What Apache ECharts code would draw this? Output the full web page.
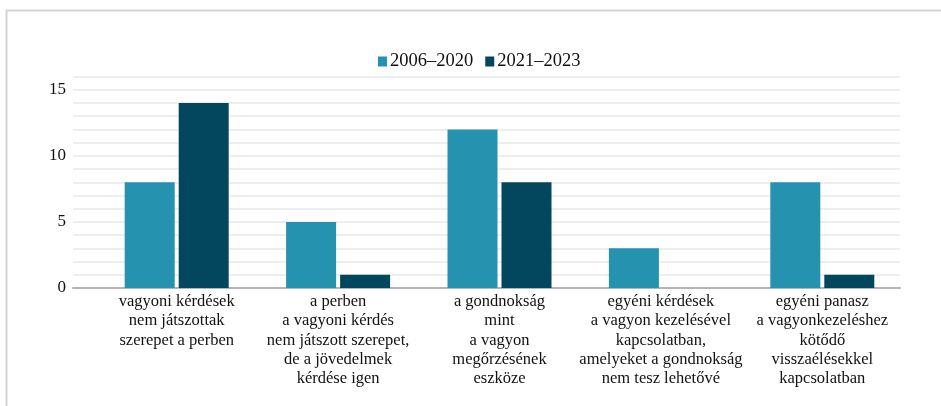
<!DOCTYPE html>
<html>
<head>
<meta charset="utf-8">
<script src="https://cdn.jsdelivr.net/npm/echarts@6/dist/echarts.min.js"></script>
<style>
  html, body { margin: 0; padding: 0; background: #ffffff; }
  #chart { width: 941px; height: 406px; }
</style>
</head>
<body>
<div id="chart"></div>
<script>
// Categories (multi-line labels) and the two period series
const categories = [
  'vagyoni kérdések\nnem játszottak\nszerepet a perben',
  'a perben\na vagyoni kérdés\nnem játszott szerepet,\nde a jövedelmek\nkérdése igen',
  'a gondnokság\nmint\na vagyon\nmegőrzésének\neszköze',
  'egyéni kérdések\na vagyon kezelésével\nkapcsolatban,\namelyeket a gondnokság\nnem tesz lehetővé',
  'egyéni panasz\na vagyonkezeléshez\nkötődő\nvisszaélésekkel\nkapcsolatban'
];
const seriesNames = ['2006–2020', '2021–2023'];
const values2006_2020 = [8, 5, 12, 3, 8];
const values2021_2023 = [14, 1, 8, 0, 1];
const yTickLabels = [0, 5, 10, 15];

const FONT = '"Liberation Serif", "Times New Roman", serif';
const colors = ['#2592B0', '#03475F'];

const chart = echarts.init(document.getElementById('chart'), null, { renderer: 'canvas' });

const gridBox = { top: 76.5, bottom: 118 };

chart.setOption({
  animation: false,
  color: colors,
  textStyle: { fontFamily: FONT },
  graphic: [
    // light frame along top and left edges
    { type: 'line', shape: { x1: 6, y1: 10.5, x2: 941, y2: 10.5 }, style: { stroke: '#d4d4d4', lineWidth: 2 }, silent: true },
    { type: 'line', shape: { x1: 6.5, y1: 10, x2: 6.5, y2: 406 }, style: { stroke: '#d4d4d4', lineWidth: 2 }, silent: true }
  ],
  legend: {
    data: seriesNames,
    top: 47,
    left: 373,
    itemWidth: 9,
    itemHeight: 10,
    itemGap: 12,
    icon: 'rect',
    textStyle: { fontFamily: FONT, fontSize: 18.5, color: '#111', padding: [0, 0, 0, -2] }
  },
  grid: [
    { left: 73, right: 41, top: gridBox.top, bottom: gridBox.bottom },
    { left: 96, right: 38, top: gridBox.top, bottom: gridBox.bottom }
  ],
  xAxis: [
    {
      // background axis: carries the baseline across the full gridline span
      gridIndex: 0, type: 'value', min: 0, max: 1,
      axisLine: { show: true, lineStyle: { color: '#b4b4b4', width: 2 } },
      axisTick: { show: false }, axisLabel: { show: false }, splitLine: { show: false }
    },
    {
      gridIndex: 1, type: 'category', data: categories,
      axisLine: { show: false }, axisTick: { show: false },
      axisLabel: {
        interval: 0, margin: 4, fontFamily: FONT, fontSize: 16.5, lineHeight: 19.3,
        color: '#111', align: 'center', verticalAlign: 'top'
      }
    }
  ],
  yAxis: [
    {
      gridIndex: 0, type: 'value', min: 0, max: 16, interval: 1,
      axisLine: { show: false }, axisTick: { show: false },
      axisLabel: {
        margin: 7, fontFamily: FONT, fontSize: 17, color: '#111',
        formatter: v => (yTickLabels.indexOf(v) >= 0 ? String(v) : '')
      },
      splitLine: { show: true, lineStyle: { color: '#eeeeee', width: 2 } }
    },
    {
      gridIndex: 1, type: 'value', min: 0, max: 16, interval: 1,
      axisLine: { show: false }, axisTick: { show: false },
      axisLabel: { show: false }, splitLine: { show: false }
    }
  ],
  series: [
    {
      name: seriesNames[0], type: 'bar', xAxisIndex: 1, yAxisIndex: 1,
      data: values2006_2020, barWidth: 50, barGap: '8%',
      itemStyle: { color: colors[0] }
    },
    {
      name: seriesNames[1], type: 'bar', xAxisIndex: 1, yAxisIndex: 1,
      data: values2021_2023, barWidth: 50, barGap: '8%',
      itemStyle: { color: colors[1] }
    }
  ]
});
</script>
</body>
</html>
